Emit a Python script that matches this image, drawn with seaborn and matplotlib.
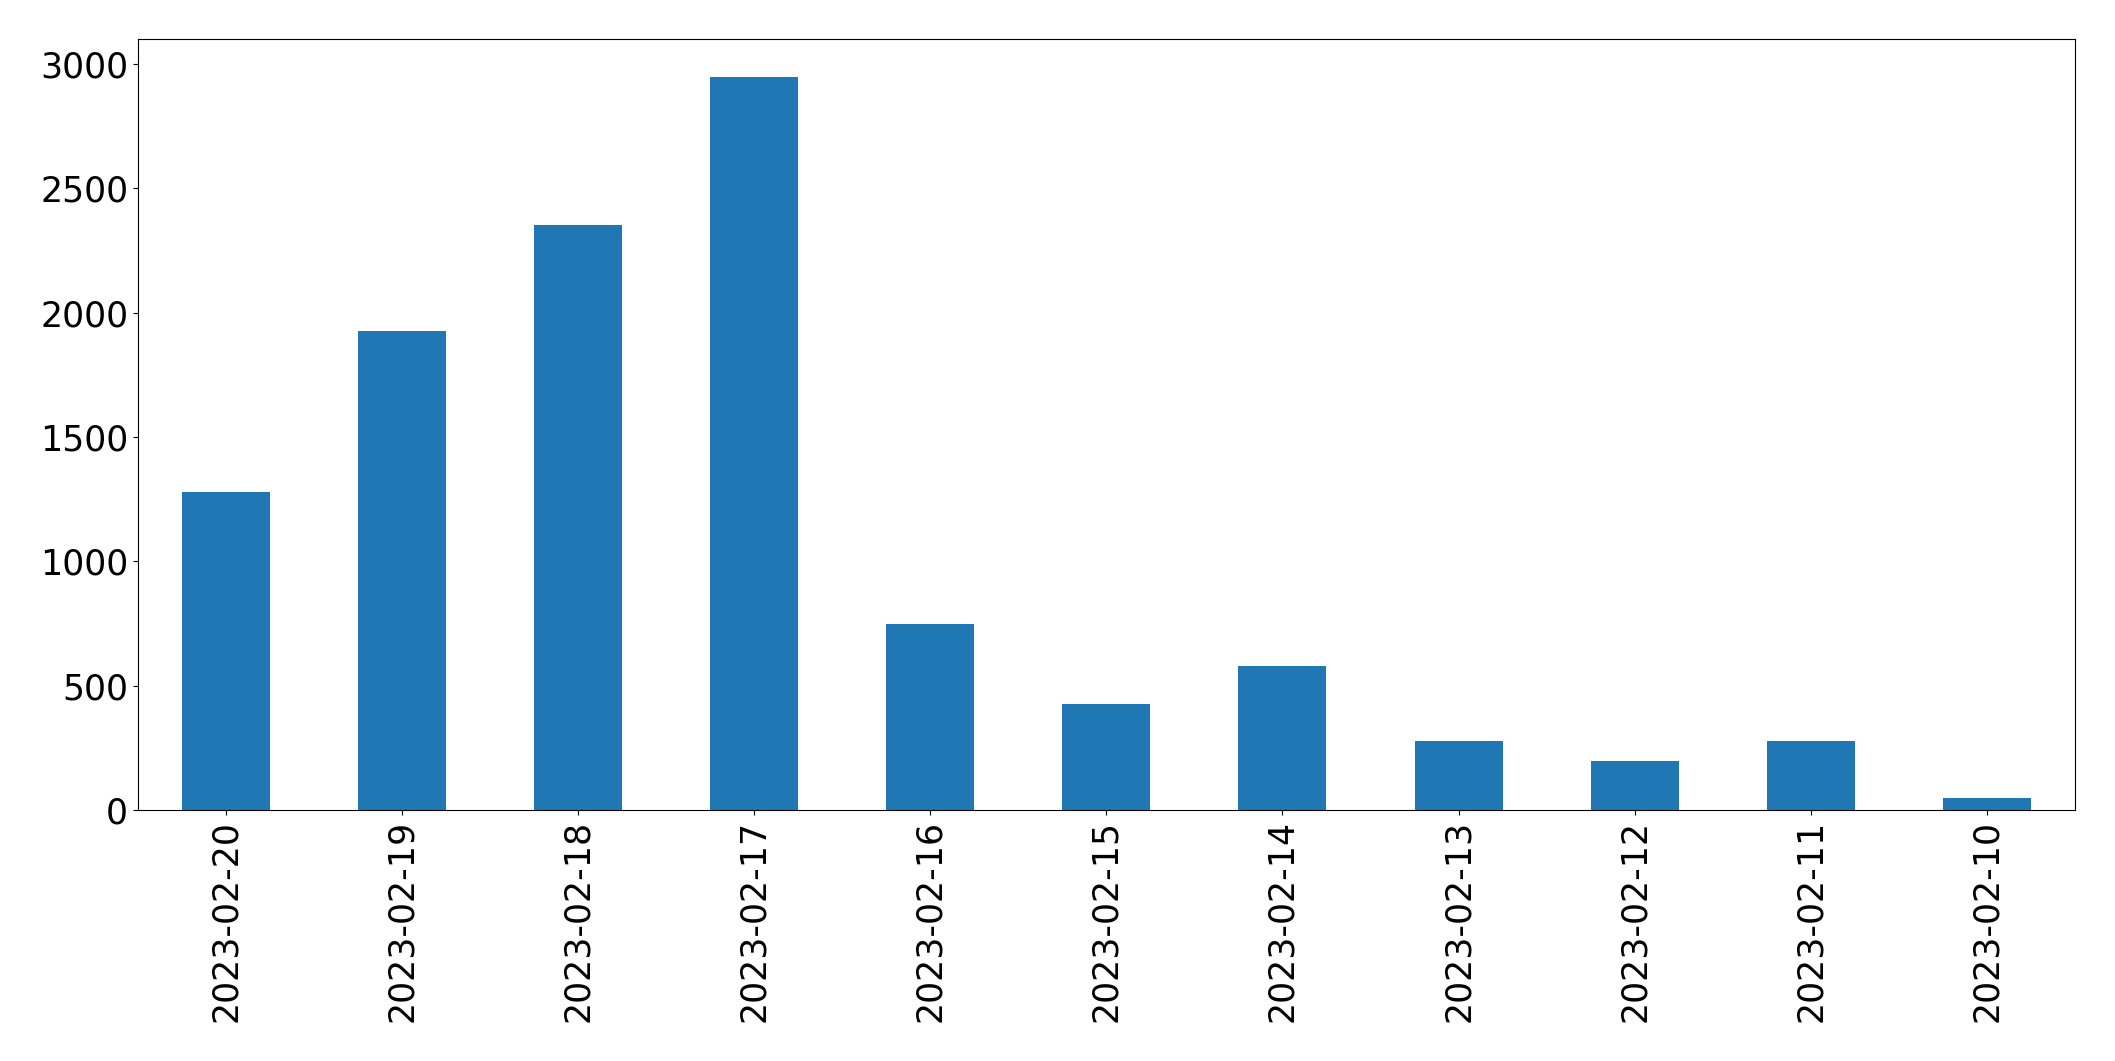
import matplotlib
matplotlib.use("Agg")
import matplotlib.pyplot as plt
import seaborn as sns
import pandas as pd

dates = ["2023-02-20", "2023-02-19", "2023-02-18", "2023-02-17", "2023-02-16",
         "2023-02-15", "2023-02-14", "2023-02-13", "2023-02-12", "2023-02-11",
         "2023-02-10"]
counts = [1278, 1926, 2354, 2950, 747, 426, 578, 277, 197, 277, 48]

df = pd.DataFrame({"date": dates, "count": counts})

fig, ax = plt.subplots(figsize=(21.15, 10.61), dpi=100)
sns.barplot(data=df, x="date", y="count", order=dates, color="#1f77b4",
            saturation=1, width=0.5, ax=ax)
ax.set_xlim(-0.5, len(dates) - 0.5)
ax.set_ylim(0, 3100)
ax.set_yticks([0, 500, 1000, 1500, 2000, 2500, 3000])
ax.set_xlabel("")
ax.set_ylabel("")
for s in ax.spines.values():
    s.set_color("black")
ax.tick_params(axis="both", labelsize=25, colors="black")
plt.setp(ax.get_xticklabels(), rotation=90)
fig.subplots_adjust(left=0.0652, right=0.981, top=0.963, bottom=0.2366)
fig.savefig("out.png", dpi=100)
